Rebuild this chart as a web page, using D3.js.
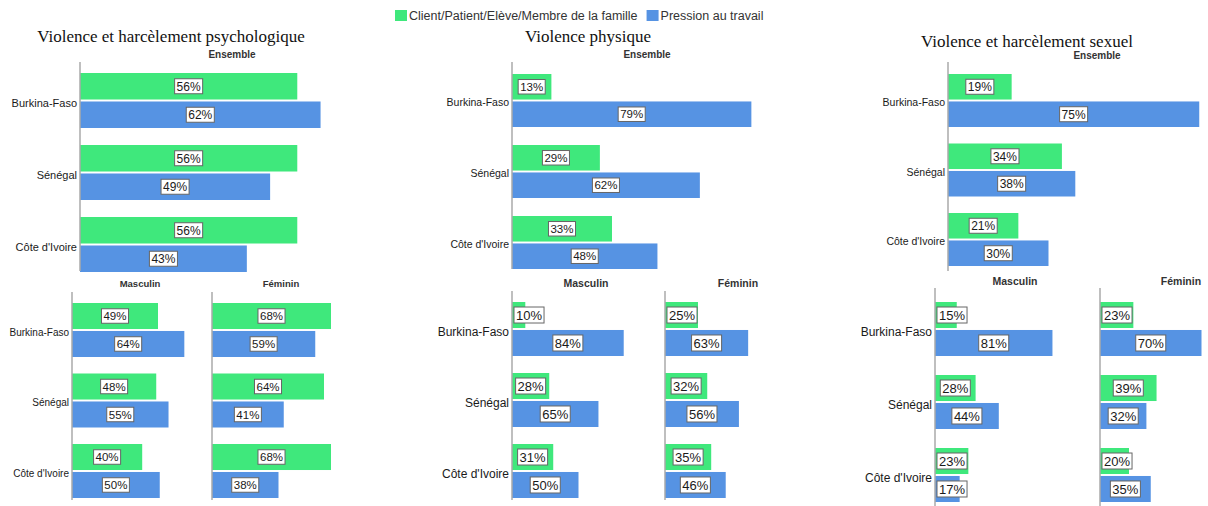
<!DOCTYPE html>
<html>
<head>
<meta charset="utf-8">
<script src="https://cdn.jsdelivr.net/npm/d3@7"></script>
<style>
  body { margin: 0; background: #fff; }
  text { font-family: "Liberation Sans", Arial, sans-serif; }
</style>
</head>
<body>
<script>
// categories and series
var countries = ["Burkina-Faso", "Sénégal", "Côte d'Ivoire"]
var series = ["Client/Patient/Elève/Membre de la famille", "Pression au travail"]
var colors = ["#3fe87c", "#5693e3"]

// psychologique
var psyEnsClient = [56, 56, 56]
var psyEnsPression = [62, 49, 43]
var psyMascClient = [49, 48, 40]
var psyMascPression = [64, 55, 50]
var psyFemClient = [68, 64, 68]
var psyFemPression = [59, 41, 38]
// physique
var phyEnsClient = [13, 29, 33]
var phyEnsPression = [79, 62, 48]
var phyMascClient = [10, 28, 31]
var phyMascPression = [84, 65, 50]
var phyFemClient = [25, 32, 35]
var phyFemPression = [63, 56, 46]
// sexuel
var sexEnsClient = [19, 34, 21]
var sexEnsPression = [75, 38, 30]
var sexMascClient = [15, 28, 23]
var sexMascPression = [81, 44, 17]
var sexFemClient = [23, 39, 20]
var sexFemPression = [70, 32, 35]

var titles = ["Violence et harcèlement psychologique", "Violence physique", "Violence et harcèlement sexuel"]
var subTitles = ["Ensemble", "Masculin", "Féminin"]

var svg = d3.select("body").append("svg")
    .attr("width", 1208)
    .attr("height", 506)

// legend
var legend = svg.append("g").attr("transform", "translate(395,10)")
var lx = 0
series.forEach(function(s, i) {
    legend.append("rect").attr("x", lx).attr("y", 0).attr("width", 12).attr("height", 11).attr("fill", colors[i])
    var t = legend.append("text").attr("x", lx + 14).attr("y", 10)
        .attr("font-size", 12.5).attr("fill", "#333").text(s)
    lx += 14 + t.node().getComputedTextLength() + 9
})

// titles
var titlePos = [[171, 42], [588, 42], [1027, 47]]
titles.forEach(function(t, i) {
    svg.append("text").attr("x", titlePos[i][0]).attr("y", titlePos[i][1])
        .attr("text-anchor", "middle")
        .style("font-family", "'Liberation Serif', 'DejaVu Serif', serif")
        .attr("font-size", 17).attr("fill", "#111").text(t)
})

// one small bar chart
function drawChart(cfg) {
    var g = svg.append("g")
    var step = cfg.step, pad = (step - cfg.gh) / step
    var y0 = cfg.top - pad * step / 2
    var yScale = d3.scaleBand().domain(countries)
        .range([y0, y0 + step * countries.length])
        .paddingInner(pad).paddingOuter(pad / 2)
    var ySub = d3.scaleBand().domain([0, 1]).range([0, yScale.bandwidth()]).paddingInner(0.07)
    var xScale = d3.scaleLinear().domain([0, 100]).range([cfg.axisX, cfg.axisX + cfg.px * 100])

    // subtitle
    g.append("text").attr("x", cfg.subX).attr("y", cfg.subY)
        .attr("text-anchor", "middle").attr("font-size", cfg.subSize)
        .attr("font-weight", "bold").attr("fill", "#333").text(cfg.sub)

    var rows = countries.map(function(c, i) {
        return {country: c, values: [cfg.client[i], cfg.pression[i]]}
    })

    var row = g.selectAll(".row").data(rows).enter().append("g")
        .attr("transform", function(d) { return "translate(0," + yScale(d.country) + ")" })

    var bars = row.selectAll(".bar").data(function(d) {
        return d.values.map(function(v, k) { return {v: v, k: k} })
    }).enter()

    bars.append("rect")
        .attr("x", xScale(0))
        .attr("y", function(d) { return ySub(d.k) })
        .attr("width", function(d) { return xScale(d.v) - xScale(0) })
        .attr("height", ySub.bandwidth())
        .attr("fill", function(d) { return colors[d.k] })

    // value labels in white boxes
    bars.each(function(d) {
        var sel = d3.select(this)
        var t = sel.append("text")
            .attr("font-size", cfg.labSize).attr("fill", "#1a1a1a")
            .attr("text-anchor", "middle")
            .text(d.v + "%")
        var w = t.node().getComputedTextLength() + 4
        var h = cfg.labSize + 3
        var cx = (xScale(0) + xScale(d.v)) / 2
        if (cx - w / 2 < xScale(0) + 2) cx = xScale(0) + 2 + w / 2
        var cy = ySub(d.k) + ySub.bandwidth() / 2
        sel.insert("rect", "text")
            .attr("x", cx - w / 2).attr("y", cy - h / 2)
            .attr("width", w).attr("height", h)
            .attr("fill", "#fff").attr("stroke", "#666").attr("stroke-width", 1)
        t.attr("x", cx).attr("y", cy + cfg.labSize * 0.36)
    })

    // axis line and country labels
    if (cfg.showCats) {
        var axis = d3.axisLeft(yScale).tickSize(0).tickPadding(3)
        var ax = g.append("g").attr("transform", "translate(" + cfg.axisX + ",0)").call(axis)
        ax.select(".domain").remove()
        ax.selectAll("text").attr("font-size", cfg.catSize).attr("fill", "#1a1a1a")
            .style("font-family", "'Liberation Sans', Arial, sans-serif")
            .attr("dy", "0.55em")
    }
    g.append("line")
        .attr("x1", cfg.axisX).attr("x2", cfg.axisX)
        .attr("y1", cfg.axisTop).attr("y2", cfg.axisBottom)
        .attr("stroke", "#aaa").attr("stroke-width", 1.5)
}

var charts = [
    {sub: subTitles[0], client: psyEnsClient, pression: psyEnsPression, top: 73, step: 72, gh: 55, axisX: 80, px: 3.88,
     axisTop: 62, axisBottom: 271, subX: 232, subY: 58, subSize: 10, labSize: 12, showCats: true, catSize: 11},
    {sub: subTitles[1], client: psyMascClient, pression: psyMascPression, top: 303, step: 70.5, gh: 54, axisX: 72, px: 1.755,
     axisTop: 292, axisBottom: 500, subX: 140, subY: 287, subSize: 9.5, labSize: 11.5, showCats: true, catSize: 10},
    {sub: subTitles[2], client: psyFemClient, pression: psyFemPression, top: 303, step: 70.5, gh: 54, axisX: 212, px: 1.75,
     axisTop: 292, axisBottom: 500, subX: 281, subY: 287, subSize: 9.5, labSize: 11.5, showCats: false},
    {sub: subTitles[0], client: phyEnsClient, pression: phyEnsPression, top: 74, step: 71, gh: 53, axisX: 512, px: 3.03,
     axisTop: 62, axisBottom: 269, subX: 647, subY: 58, subSize: 10, labSize: 11.5, showCats: true, catSize: 10.5},
    {sub: subTitles[1], client: phyMascClient, pression: phyMascPression, top: 302, step: 71, gh: 54, axisX: 512, px: 1.33,
     axisTop: 291, axisBottom: 500, subX: 586, subY: 287, subSize: 10.5, labSize: 13, showCats: true, catSize: 12},
    {sub: subTitles[2], client: phyFemClient, pression: phyFemPression, top: 302, step: 71, gh: 54, axisX: 665, px: 1.32,
     axisTop: 291, axisBottom: 500, subX: 738, subY: 287, subSize: 10.5, labSize: 13, showCats: false},
    {sub: subTitles[0], client: sexEnsClient, pression: sexEnsPression, top: 74, step: 69.5, gh: 53, axisX: 948, px: 3.35,
     axisTop: 62, axisBottom: 271, subX: 1097, subY: 59, subSize: 10, labSize: 12, showCats: true, catSize: 10.5},
    {sub: subTitles[1], client: sexMascClient, pression: sexMascPression, top: 302, step: 73, gh: 54, axisX: 935, px: 1.45,
     axisTop: 288, axisBottom: 506, subX: 1015, subY: 285, subSize: 10.5, labSize: 13, showCats: true, catSize: 12},
    {sub: subTitles[2], client: sexFemClient, pression: sexFemPression, top: 302, step: 73, gh: 54, axisX: 1100, px: 1.45,
     axisTop: 288, axisBottom: 506, subX: 1181, subY: 285, subSize: 10.5, labSize: 13, showCats: false}
]

charts.forEach(drawChart)
</script>
</body>
</html>
